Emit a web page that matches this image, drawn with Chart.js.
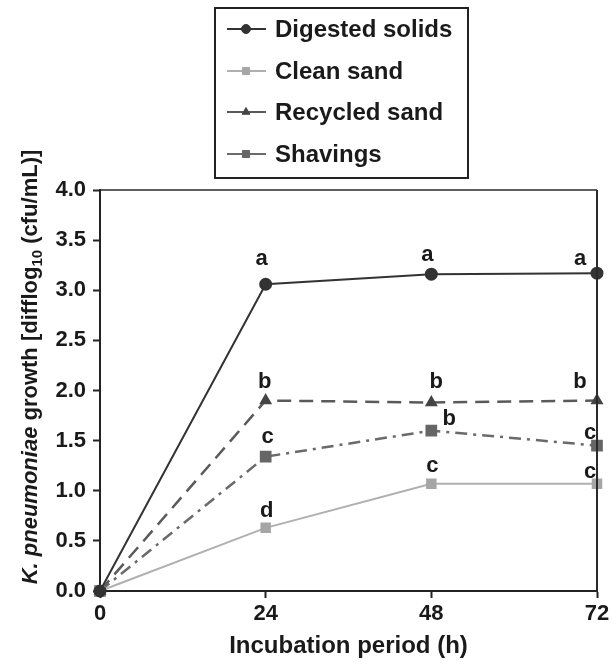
<!DOCTYPE html>
<html>
<head>
<meta charset="utf-8">
<script src="https://cdn.jsdelivr.net/npm/chart.js@4/dist/chart.umd.min.js"></script>
<style>
  html, body { margin: 0; padding: 0; background: #fff; }
  #wrap { width: 613px; height: 664px; }
</style>
</head>
<body>
<div id="wrap"><canvas id="myChart" width="613" height="664"></canvas></div>
<script>
// values
const hours = [0, 24, 48, 72];
const seriesNames = ["Digested solids", "Clean sand", "Recycled sand", "Shavings"];
const digestedSolids = [0, 3.06, 3.16, 3.17];
const cleanSand = [0, 0.63, 1.07, 1.07];
const recycledSand = [0, 1.90, 1.88, 1.90];
const shavings = [0, 1.34, 1.60, 1.45];
const yTicks = [0, 0.5, 1, 1.5, 2, 2.5, 3, 3.5, 4];

// significance letters over the points
const lettersDigested = ["", "a", "a", "a"];
const lettersClean = ["", "d", "c", "c"];
const lettersRecycled = ["", "b", "b", "b"];
const lettersShavings = ["", "c", "b", "c"];

// where each letter sits relative to its point (px)
const letterOffsets = [
  [null, [-4, -19], [-4, -13], [-17, -8]],
  [null, [1, -11], [1, -12], [-7, -6]],
  [null, [-1, -13], [5, -15], [-17, -13]],
  [null, [2, -14], [18, -6], [-7, -7]],
];

const toPoints = (vals) => hours.map((h, i) => ({ x: h, y: vals[i] }));
const allLetters = [lettersDigested, lettersClean, lettersRecycled, lettersShavings];

const INK = "#1a1a1a";
const FONT = "'Liberation Sans', Arial, Helvetica, sans-serif";

const yTitlePlugin = {
  id: "yTitle",
  afterDraw(chart) {
    const ctx = chart.ctx;
    const parts = [
      { t: "K. pneumoniae", f: "italic bold 22px " + FONT, dy: 0 },
      { t: " growth [difflog", f: "bold 22px " + FONT, dy: 0 },
      { t: "10", f: "bold 15px " + FONT, dy: 5 },
      { t: " (cfu/mL)]", f: "bold 22px " + FONT, dy: 0 },
    ];
    ctx.save();
    let total = 0;
    parts.forEach((p) => {
      ctx.font = p.f;
      p.w = ctx.measureText(p.t).width;
      total += p.w;
    });
    ctx.translate(37, 367);
    ctx.rotate(-Math.PI / 2);
    ctx.fillStyle = INK;
    ctx.textBaseline = "alphabetic";
    ctx.textAlign = "left";
    let x = -total / 2;
    parts.forEach((p) => {
      ctx.font = p.f;
      ctx.fillText(p.t, x, p.dy);
      x += p.w;
    });
    ctx.restore();
  },
};

const framePlugin = {
  id: "frame",
  afterDraw(chart) {
    const { ctx, chartArea: a } = chart;
    ctx.save();
    ctx.strokeStyle = "#2a2a2a";
    ctx.lineWidth = 1.5;
    ctx.beginPath();
    ctx.moveTo(a.left, a.top);
    ctx.lineTo(a.right, a.top);
    ctx.stroke();
    ctx.lineWidth = 2;
    ctx.beginPath();
    ctx.moveTo(a.right, a.top);
    ctx.lineTo(a.right, a.bottom);
    ctx.stroke();
    ctx.restore();
  },
};

const letterPlugin = {
  id: "letters",
  afterDatasetsDraw(chart) {
    const ctx = chart.ctx;
    ctx.save();
    ctx.font = "bold 22px " + FONT;
    ctx.fillStyle = INK;
    ctx.textAlign = "center";
    ctx.textBaseline = "alphabetic";
    allLetters.forEach((letters, i) => {
      const meta = chart.getDatasetMeta(i);
      letters.forEach((l, j) => {
        if (!l) return;
        const pt = meta.data[j];
        const off = letterOffsets[i][j];
        ctx.fillText(l, pt.x + off[0], pt.y + off[1]);
      });
    });
    ctx.restore();
  },
};

const boxLegendPlugin = {
  id: "boxLegend",
  afterDraw(chart) {
    const ctx = chart.ctx;
    const left = 215, top = 8, w = 253, h = 170;
    const rows = [29, 71, 112, 154];
    ctx.save();
    ctx.strokeStyle = "#222";
    ctx.lineWidth = 2;
    ctx.strokeRect(left, top, w, h);
    chart.data.datasets.forEach((ds, i) => {
      const y = rows[i];
      ctx.strokeStyle = ds.borderColor;
      ctx.lineWidth = 2;
      ctx.setLineDash([]);
      ctx.beginPath();
      ctx.moveTo(227, y);
      ctx.lineTo(266, y);
      ctx.stroke();
      ctx.fillStyle = ds.pointBackgroundColor;
      ctx.strokeStyle = ds.pointBorderColor;
      ctx.lineWidth = 1;
      Chart.helpers.drawPoint(
        ctx,
        { pointStyle: ds.pointStyle, radius: ds.legendRadius, rotation: 0, borderWidth: 1 },
        246,
        y
      );
      ctx.fillStyle = INK;
      ctx.font = "bold 24px " + FONT;
      ctx.textAlign = "left";
      ctx.textBaseline = "middle";
      ctx.fillText(ds.label, 275, y + 1);
    });
    ctx.restore();
  },
};

const ctx = document.getElementById("myChart").getContext("2d");
const chart = new Chart(ctx, {
  type: "line",
  data: {
    datasets: [
      {
        label: seriesNames[0],
        data: toPoints(digestedSolids),
        borderColor: "#333333",
        backgroundColor: "#333333",
        pointBackgroundColor: "#333333",
        pointBorderColor: "#333333",
        pointStyle: "circle",
        pointRadius: 5.5,
        legendRadius: 4.5,
        borderWidth: 2,
      },
      {
        label: seriesNames[1],
        data: toPoints(cleanSand),
        borderColor: "#b0b0b0",
        backgroundColor: "#a6a6a6",
        pointBackgroundColor: "#a6a6a6",
        pointBorderColor: "#a6a6a6",
        pointStyle: "rect",
        pointRadius: 6,
        legendRadius: 5,
        borderWidth: 2,
      },
      {
        label: seriesNames[2],
        data: toPoints(recycledSand),
        borderColor: "#5a5a5a",
        backgroundColor: "#444444",
        pointBackgroundColor: "#444444",
        pointBorderColor: "#444444",
        pointStyle: "triangle",
        pointRadius: 5,
        legendRadius: 4.5,
        borderWidth: 2.5,
        borderDash: [14, 8],
      },
      {
        label: seriesNames[3],
        data: toPoints(shavings),
        borderColor: "#6a6a6a",
        backgroundColor: "#666666",
        pointBackgroundColor: "#666666",
        pointBorderColor: "#666666",
        pointStyle: "rect",
        pointRadius: 6.5,
        legendRadius: 5,
        borderWidth: 2.5,
        borderDash: [12, 6, 3, 6],
      },
    ],
  },
  options: {
    responsive: false,
    animation: false,
    clip: false,
    layout: { padding: { top: 190, right: 16, left: 50, bottom: 0 } },
    elements: { line: { tension: 0, fill: false } },
    plugins: {
      legend: { display: false },
      tooltip: { enabled: false },
    },
    scales: {
      x: {
        type: "linear",
        min: 0,
        max: 72,
        afterFit: (s) => { s.height = 73; },
        ticks: {
          stepSize: 24,
          color: INK,
          padding: 3,
          font: { family: FONT, size: 22, weight: "bold" },
        },
        grid: { drawOnChartArea: false, drawTicks: true, tickLength: 7, tickColor: "#222", tickWidth: 2 },
        border: { display: true, color: "#222", width: 2 },
        title: {
          display: true,
          text: "Incubation period (h)",
          color: INK,
          padding: { top: 0, bottom: 3 },
          font: { family: FONT, size: 24, weight: "bold" },
        },
      },
      y: {
        type: "linear",
        min: 0,
        max: 4,
        afterFit: (s) => { s.width = 50; },
        afterBuildTicks: (s) => { s.ticks = yTicks.map((v) => ({ value: v })); },
        ticks: {
          color: INK,
          padding: 7,
          callback: (v) => v.toFixed(1),
          font: { family: FONT, size: 22, weight: "bold" },
        },
        grid: { drawOnChartArea: false, drawTicks: true, tickLength: 7, tickColor: "#222", tickWidth: 2 },
        border: { display: true, color: "#222", width: 2 },
      },
    },
  },
  plugins: [yTitlePlugin, framePlugin, letterPlugin, boxLegendPlugin],
});
</script>
</body>
</html>
